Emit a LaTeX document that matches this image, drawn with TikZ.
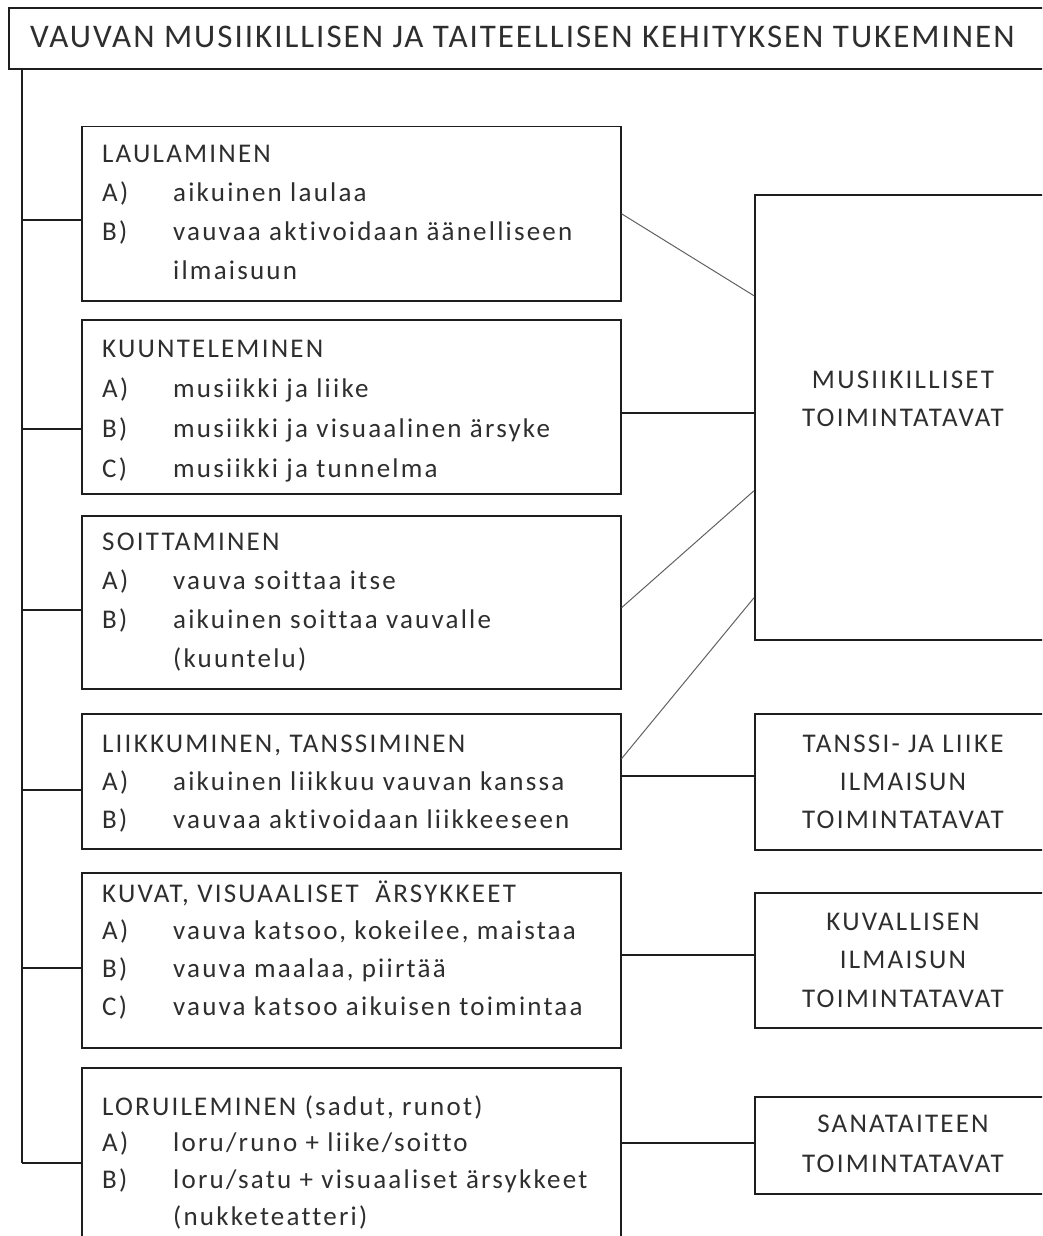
\documentclass[tikz,border=0pt]{standalone}
\usepackage{fontspec}
\setmainfont{Carlito}[LetterSpace=6, Ligatures=NoCommon]
\newfontfamily\boxfont{Carlito}[LetterSpace=8.2, Ligatures=NoCommon]
\usetikzlibrary{calc}

\definecolor{inkline}{HTML}{1E1E1E}
\definecolor{inktext}{HTML}{2E2E2E}

% one row of an item list: label column, then the text
\newcommand\itemrow[2]{\hbox{\makebox[71pt][l]{#1}#2}}
\newcommand\plainrow[1]{\hbox{\hspace*{71pt}#1}}
\newcommand\ctrrow[1]{\hbox to 0pt{\hss#1\hss}}

\begin{document}
\begin{tikzpicture}[x=1pt,y=-1pt,
  frame/.style={draw=inkline, line width=1.5pt},
  stagebox/.style={frame, rectangle, anchor=north west, inner sep=0pt,
    minimum width=539pt},
  sidebox/.style={frame, rectangle, anchor=north west, inner sep=0pt,
    minimum width=320pt},
  lefttext/.style={anchor=base west, inner sep=0pt, text=inktext,
    font=\boxfont\fontsize{27}{38.5}\selectfont},
  midtext/.style={anchor=base, inner sep=0pt, text=inktext,
    font=\boxfont\fontsize{27}{38.5}\selectfont},
  link/.style={draw=inkline, line width=1.5pt},
  slant/.style={draw=inkline!70, line width=1pt}]

\useasboundingbox (0,0) rectangle (1042,1236);
\clip (0,0) rectangle (1042,1236);

% heading
\node[draw=inkline, line width=2.2pt, rectangle, anchor=north west, inner sep=0pt,
  minimum width=1100pt, minimum height=61pt] (title) at (8,7) {};
\node[anchor=base west, inner sep=0pt, text=inktext,
  font=\fontsize{33}{40}\selectfont] (titletext) at (30,48)
  {VAUVAN MUSIIKILLISEN JA TAITEELLISEN KEHITYKSEN TUKEMINEN};

% activity boxes
\node[stagebox, minimum height=174pt] (b1) at (81,126) {};
\node[stagebox, minimum height=174pt] (b2) at (81,319) {};
\node[stagebox, minimum height=173pt] (b3) at (81,515) {};
\node[stagebox, minimum height=135pt] (b4) at (81,713) {};
\node[stagebox, minimum height=175pt] (b5) at (81,872) {};
\node[stagebox, minimum height=200pt] (b6) at (81,1067) {};

\node[lefttext] (t1) at (102,162) {\vtop{\baselineskip=39pt
  \hbox{LAULAMINEN}
  \itemrow{A)}{aikuinen laulaa}
  \itemrow{B)}{vauvaa aktivoidaan äänelliseen}
  \plainrow{ilmaisuun}}};
\node[lefttext] (t2) at (102,357) {\vtop{\baselineskip=40pt
  \hbox{KUUNTELEMINEN}
  \itemrow{A)}{musiikki ja liike}
  \itemrow{B)}{musiikki ja visuaalinen ärsyke}
  \itemrow{C)}{musiikki ja tunnelma}}};
\node[lefttext] (t3) at (102,550) {\vtop{\baselineskip=39.3pt
  \hbox{SOITTAMINEN}
  \itemrow{A)}{vauva soittaa itse}
  \itemrow{B)}{aikuinen soittaa vauvalle}
  \plainrow{(kuuntelu)}}};
\node[lefttext] (t4) at (102,752) {\vtop{\baselineskip=38pt
  \hbox{LIIKKUMINEN, TANSSIMINEN}
  \itemrow{A)}{aikuinen liikkuu vauvan kanssa}
  \itemrow{B)}{vauvaa aktivoidaan liikkeeseen}}};
\node[lefttext] (t5) at (102,902) {\vtop{\baselineskip=37.7pt
  \hbox{KUVAT, VISUAALISET\ \ ÄRSYKKEET}
  \itemrow{A)}{vauva katsoo, kokeilee, maistaa}
  \itemrow{B)}{vauva maalaa, piirtää}
  \itemrow{C)}{vauva katsoo aikuisen toimintaa}}};
\node[lefttext] (t6) at (102,1115) {\vtop{\baselineskip=36.7pt
  \hbox{LORUILEMINEN (sadut, runot)}
  \itemrow{A)}{loru/runo + liike/soitto}
  \itemrow{B)}{loru/satu + visuaaliset ärsykkeet}
  \plainrow{(nukketeatteri)}}};

% outcome boxes
\node[sidebox, minimum height=445pt] (mus) at (754,194) {};
\node[sidebox, minimum height=136pt] (tan) at (754,713) {};
\node[sidebox, minimum height=135pt] (kuv) at (754,892) {};
\node[sidebox, minimum height=97pt]  (san) at (754,1096) {};

\node[midtext] (mustext) at (903,388) {\vtop{\baselineskip=38.5pt
  \ctrrow{MUSIIKILLISET}\ctrrow{TOIMINTATAVAT}}};
\node[midtext] (tantext) at (903,752) {\vtop{\baselineskip=38pt
  \ctrrow{TANSSI- JA LIIKE}\ctrrow{ILMAISUN}\ctrrow{TOIMINTATAVAT}}};
\node[midtext] (kuvtext) at (903,930) {\vtop{\baselineskip=38.5pt
  \ctrrow{KUVALLISEN}\ctrrow{ILMAISUN}\ctrrow{TOIMINTATAVAT}}};
\node[midtext] (santext) at (903,1132) {\vtop{\baselineskip=40pt
  \ctrrow{SANATAITEEN}\ctrrow{TOIMINTATAVAT}}};

% spine from the heading down to every activity box
\coordinate (spinetop) at (22,68);
\coordinate (spinebot) at (22,1163);
\draw[link] (spinetop) -- (spinebot);
\draw[link] ([yshift=-6pt]b1.west) -- ([yshift=-6pt]b1.west -| spinetop);
\draw[link] ([yshift=-22pt]b2.west) -- ([yshift=-22pt]b2.west -| spinetop);
\draw[link] ([yshift=-7.5pt]b3.west) -- ([yshift=-7.5pt]b3.west -| spinetop);
\draw[link] ([yshift=-8.5pt]b4.west) -- ([yshift=-8.5pt]b4.west -| spinetop);
\draw[link] ([yshift=-7.5pt]b5.west) -- ([yshift=-7.5pt]b5.west -| spinetop);
\draw[link] (spinebot) -- (spinebot -| b6.west);

% activities to their ways of working
\draw[slant] (b1.east) -- ([yshift=121.5pt]mus.west);
\draw[link]  ([yshift=-6pt]b2.east) -- ([yshift=-6pt]b2.east -| mus.west);
\draw[slant] ([yshift=-5.5pt]b3.east) -- ([yshift=-73.5pt]mus.west);
\draw[slant] ([yshift=22.5pt]b4.east) -- ([yshift=-180.5pt]mus.west);
\draw[link]  ([yshift=5.5pt]b4.east) -- ([yshift=5.5pt]b4.east -| tan.west);
\draw[link]  ([yshift=5.5pt]b5.east) -- ([yshift=5.5pt]b5.east -| kuv.west);
\draw[link]  ([yshift=2.5pt]san.west) -- ([yshift=2.5pt]san.west -| b6.east);
\end{tikzpicture}
\end{document}
